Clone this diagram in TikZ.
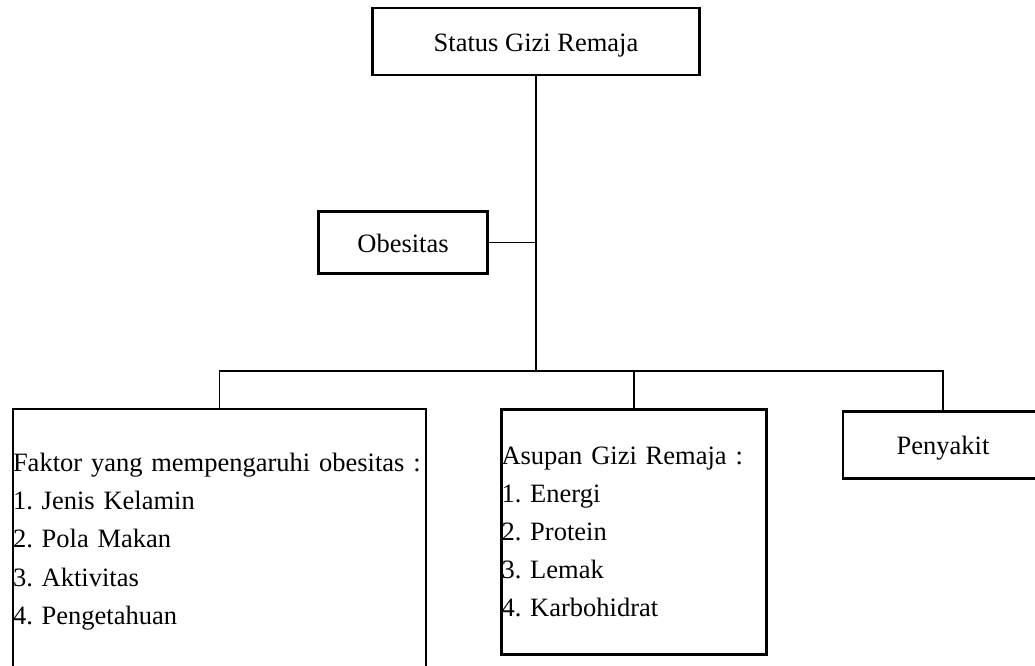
\documentclass[tikz,border=0pt]{standalone}
\usepackage{fontspec}
\setmainfont{Liberation Serif}
\frenchspacing
\begin{document}
\begin{tikzpicture}[x=1pt,y=-1pt,
    kotak/.style={draw,line width=2.6pt,rectangle,inner sep=0pt},
    satu/.style={text height=20,text depth=1},
    garis/.style={line width=1.3pt},
    font=\fontsize{26.5}{38.2}\selectfont]
      \useasboundingbox (0,0) rectangle (1035,665);
      %% the boxes
      \node[kotak,satu,minimum width=327,minimum height=67] (status) at (536,41.5) {Status Gizi Remaja};
      \node[kotak,satu,minimum width=169,minimum height=62] (obes) at (403,242.5) {Obesitas};
      \node[kotak,minimum height=265,text width=413,align=left] (faktor) at (219.5,541.5)
        {Faktor yang mempengaruhi obesitas :\\1. Jenis Kelamin\\2. Pola Makan\\3. Aktivitas\\4. Pengetahuan};
      \node[kotak,minimum height=245,text width=265,align=left] (asupan) at (634,532)
        {Asupan Gizi Remaja :\\1. Energi\\2. Protein\\3. Lemak\\4. Karbohidrat};
      \node[kotak,satu,minimum width=200,minimum height=67] (sakit) at (943,445) {Penyakit};
      \coordinate (bus) at (536,371);

      %% the lines
      \draw[garis] (status.south) -- (bus);
      \draw[garis] (obes.east) -- (obes.east -| bus);
      \draw[garis] (faktor.north) |- (sakit.north |- bus) -- (sakit.north);
      \draw[garis] (asupan.north) -- (asupan.north |- bus); % middle drop
\end{tikzpicture}
\end{document}
